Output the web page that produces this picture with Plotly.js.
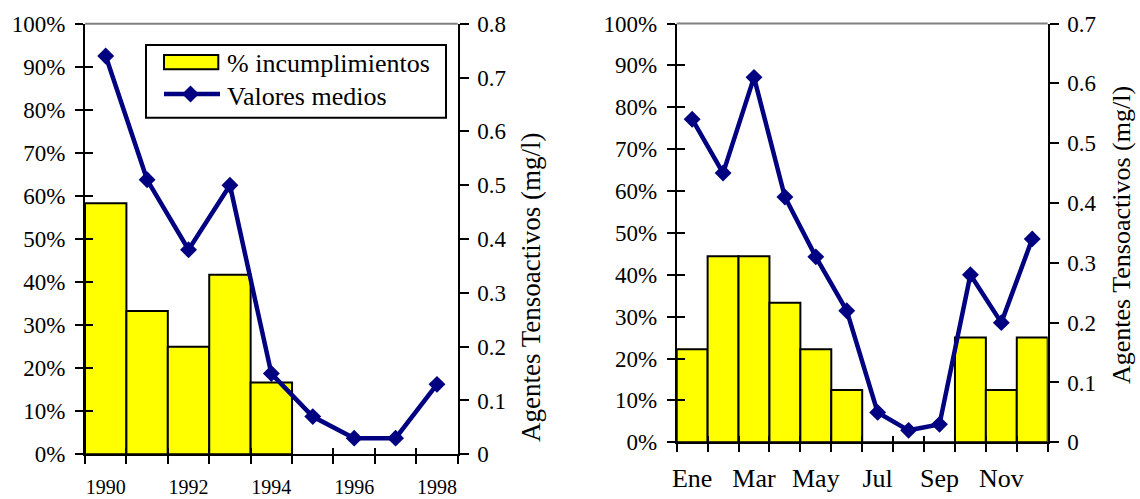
<!DOCTYPE html>
<html>
<head>
<meta charset="utf-8">
<script src="https://cdn.plot.ly/plotly-3.0.1.min.js"></script>
<style>
  html, body { margin: 0; padding: 0; background: #ffffff; }
  #chart { width: 1140px; height: 499px; }
</style>
</head>
<body>
<div id="chart"></div>
<script>
// ---- Data ----
const years = [1990, 1991, 1992, 1993, 1994, 1995, 1996, 1997, 1998];
const yearTickVals = [1990, 1992, 1994, 1996, 1998];
const pctIncumplimientosAnual = [0.583, 0.333, 0.25, 0.417, 0.167, null, null, null, null];
const valoresMediosAnual = [0.74, 0.51, 0.38, 0.50, 0.15, 0.07, 0.03, 0.03, 0.13];

const meses = ['Ene', 'Feb', 'Mar', 'Abr', 'May', 'Jun', 'Jul', 'Ago', 'Sep', 'Oct', 'Nov', 'Dic'];
const mesesTickVals = ['Ene', 'Mar', 'May', 'Jul', 'Sep', 'Nov'];
const pctIncumplimientosMensual = [0.222, 0.444, 0.444, 0.333, 0.222, 0.125, 0, 0, 0, 0.25, 0.125, 0.25];
const valoresMediosMensual = [0.54, 0.45, 0.61, 0.41, 0.31, 0.22, 0.05, 0.02, 0.03, 0.28, 0.20, 0.34];

const serieBarras = '% incumplimientos';
const serieLinea = 'Valores medios';
const tituloDerecho = 'Agentes Tensoactivos (mg/l)';

// ---- Layout helpers ----
const W = 1140, H = 499;
const px = v => v / W;
const py = v => 1 - v / H;
const FONT = '"Liberation Serif", "Times New Roman", Times, serif';
const BAR_COLOR = '#FFFF00';
const LINE_COLOR = '#000080';

// left plot area (pixels)
const L = { x0: 85, x1: 457.7, top: 23.7, bottom: 454.3 };
// right plot area (pixels)
const R = { x0: 676.7, x1: 1047.7, top: 23.5, bottom: 442.3 };

const yearBounds = years.map(y => y - 0.5).concat([years[years.length - 1] + 0.5]);
const monthBounds = meses.map((m, i) => i - 0.5).concat([meses.length - 0.5]);

// empty helper traces so that tick-only overlay axes are drawn
const helper = (xa, ya) => ({ type: 'scatter', mode: 'markers', x: [], y: [], xaxis: xa, yaxis: ya,
  showlegend: false, hoverinfo: 'skip' });

const traces = [
  {
    type: 'bar', x: years, y: pctIncumplimientosAnual, name: serieBarras,
    xaxis: 'x', yaxis: 'y', width: 1,
    marker: { color: BAR_COLOR, line: { color: '#000000', width: 2 } },
    showlegend: false, hoverinfo: 'skip'
  },
  {
    type: 'bar', x: meses, y: pctIncumplimientosMensual, name: serieBarras,
    xaxis: 'x2', yaxis: 'y4', width: 1,
    marker: { color: BAR_COLOR, line: { color: '#000000', width: 2 } },
    showlegend: false, hoverinfo: 'skip'
  },
  helper('x3', 'y'), helper('x4', 'y'), helper('x', 'y3'),
  helper('x5', 'y4'), helper('x6', 'y4'), helper('x2', 'y6'),
  {
    type: 'scatter', mode: 'lines+markers', x: years, y: valoresMediosAnual, name: serieLinea,
    xaxis: 'x', yaxis: 'y2',
    line: { color: LINE_COLOR, width: 4.5 },
    marker: { symbol: 'diamond', size: 13, color: LINE_COLOR },
    showlegend: false, hoverinfo: 'skip', cliponaxis: false
  },
  {
    type: 'scatter', mode: 'lines+markers', x: meses, y: valoresMediosMensual, name: serieLinea,
    xaxis: 'x2', yaxis: 'y5',
    line: { color: LINE_COLOR, width: 4.5 },
    marker: { symbol: 'diamond', size: 13, color: LINE_COLOR },
    showlegend: false, hoverinfo: 'skip', cliponaxis: false
  }
];

const baseAxis = {
  showgrid: false, zeroline: false, fixedrange: true,
  linecolor: '#000000', linewidth: 2, tickcolor: '#000000', tickwidth: 2,
  tickfont: { family: FONT, size: 23, color: '#000000' }
};
const tickOnly = {
  showgrid: false, zeroline: false, fixedrange: true, showline: false,
  showticklabels: false, tickcolor: '#000000', tickwidth: 2
};

const layout = {
  width: W, height: H,
  margin: { l: 0, r: 0, t: 0, b: 0, pad: 0 },
  paper_bgcolor: '#ffffff', plot_bgcolor: 'rgba(0,0,0,0)',
  showlegend: false, bargap: 0,
  font: { family: FONT, color: '#000000' },

  // ----- Left chart -----
  xaxis: Object.assign({}, baseAxis, {
    domain: [px(L.x0), px(L.x1)], anchor: 'y', range: [1989.5, 1998.5],
    tickmode: 'array', tickvals: yearTickVals, ticktext: yearTickVals.map(String),
    ticks: '', showline: true, ticklabelstandoff: 14,
    tickfont: { family: FONT, size: 20, color: '#000000' }
  }),
  xaxis3: Object.assign({}, tickOnly, {
    overlaying: 'x', anchor: 'y', range: [1989.5, 1998.5],
    tickmode: 'array', tickvals: yearBounds, ticks: 'outside', ticklen: 9
  }),
  xaxis4: Object.assign({}, tickOnly, {
    overlaying: 'x', anchor: 'y', range: [1989.5, 1998.5],
    tickmode: 'array', tickvals: yearBounds, ticks: 'inside', ticklen: 6
  }),
  yaxis: Object.assign({}, baseAxis, {
    domain: [py(L.bottom), py(L.top)], anchor: 'x', range: [0, 1],
    tickmode: 'linear', tick0: 0, dtick: 0.1, tickformat: '.0%',
    ticks: 'outside', ticklen: 8, showline: true, ticklabelstandoff: 5
  }),
  yaxis3: Object.assign({}, tickOnly, {
    overlaying: 'y', anchor: 'x', range: [0, 1],
    tickmode: 'linear', tick0: 0, dtick: 0.1, ticks: 'inside', ticklen: 8
  }),
  yaxis2: Object.assign({}, baseAxis, {
    overlaying: 'y', side: 'right', anchor: 'x', range: [0, 0.8],
    tickmode: 'linear', tick0: 0, dtick: 0.1,
    ticks: 'outside', ticklen: 9, showline: true, ticklabelstandoff: 4
  }),

  // ----- Right chart -----
  xaxis2: Object.assign({}, baseAxis, {
    domain: [px(R.x0), px(R.x1)], anchor: 'y4', type: 'category',
    categoryorder: 'array', categoryarray: meses, range: [-0.5, meses.length - 0.5],
    tickmode: 'array', tickvals: mesesTickVals, ticktext: mesesTickVals,
    ticks: '', showline: true, ticklabelstandoff: 11,
    tickfont: { family: FONT, size: 26, color: '#000000' }
  }),
  xaxis5: Object.assign({}, tickOnly, {
    overlaying: 'x2', anchor: 'y4', type: 'linear', range: [-0.5, meses.length - 0.5],
    tickmode: 'array', tickvals: monthBounds, ticks: 'outside', ticklen: 9
  }),
  xaxis6: Object.assign({}, tickOnly, {
    overlaying: 'x2', anchor: 'y4', type: 'linear', range: [-0.5, meses.length - 0.5],
    tickmode: 'array', tickvals: monthBounds, ticks: 'inside', ticklen: 6
  }),
  yaxis4: Object.assign({}, baseAxis, {
    domain: [py(R.bottom), py(R.top)], anchor: 'x2', range: [0, 1],
    tickmode: 'linear', tick0: 0, dtick: 0.1, tickformat: '.0%',
    ticks: 'outside', ticklen: 8, showline: true, ticklabelstandoff: 5
  }),
  yaxis6: Object.assign({}, tickOnly, {
    overlaying: 'y4', anchor: 'x2', range: [0, 1],
    tickmode: 'linear', tick0: 0, dtick: 0.1, ticks: 'inside', ticklen: 8
  }),
  yaxis5: Object.assign({}, baseAxis, {
    overlaying: 'y4', side: 'right', anchor: 'x2', range: [0, 0.7],
    tickmode: 'linear', tick0: 0, dtick: 0.1,
    ticks: 'outside', ticklen: 9, showline: true, ticklabelstandoff: 4
  }),

  shapes: [
    // grey top border of each plot area
    { type: 'line', xref: 'x domain', yref: 'y domain', x0: 0, x1: 1, y0: 1, y1: 1,
      line: { color: '#808080', width: 2 } },
    { type: 'line', xref: 'x2 domain', yref: 'y4 domain', x0: 0, x1: 1, y0: 1, y1: 1,
      line: { color: '#808080', width: 2 } },
    // legend box
    { type: 'rect', xref: 'paper', yref: 'paper', x0: px(146), x1: px(446), y0: py(117.7), y1: py(45),
      fillcolor: '#ffffff', line: { color: '#000000', width: 2 } },
    // legend bar swatch
    { type: 'rect', xref: 'paper', yref: 'paper', x0: px(164), x1: px(218.3), y0: py(69.3), y1: py(55),
      fillcolor: BAR_COLOR, line: { color: '#000000', width: 2 } },
    // legend line swatch
    { type: 'line', xref: 'paper', yref: 'paper', x0: px(164), x1: px(220), y0: py(94), y1: py(94),
      line: { color: LINE_COLOR, width: 4.5 } },
    { type: 'path', xref: 'paper', yref: 'paper',
      path: 'M ' + px(182) + ',' + py(94) + ' L ' + px(190.5) + ',' + py(85.5) +
            ' L ' + px(199) + ',' + py(94) + ' L ' + px(190.5) + ',' + py(102.5) + ' Z',
      fillcolor: LINE_COLOR, line: { color: LINE_COLOR, width: 0 } }
  ],

  annotations: [
    { xref: 'paper', yref: 'paper', x: px(225), y: py(63), xanchor: 'left', yanchor: 'middle',
      text: serieBarras, showarrow: false, font: { family: FONT, size: 26, color: '#000000' } },
    { xref: 'paper', yref: 'paper', x: px(225), y: py(97), xanchor: 'left', yanchor: 'middle',
      text: serieLinea, showarrow: false, font: { family: FONT, size: 26, color: '#000000' } },
    { xref: 'paper', yref: 'paper', x: px(531), y: py(287), xanchor: 'center', yanchor: 'middle',
      text: tituloDerecho, textangle: -90, showarrow: false,
      font: { family: FONT, size: 27, color: '#000000' } },
    { xref: 'paper', yref: 'paper', x: px(1121), y: py(235), xanchor: 'center', yanchor: 'middle',
      text: tituloDerecho, textangle: -90, showarrow: false,
      font: { family: FONT, size: 26, color: '#000000' } }
  ]
};

Plotly.newPlot('chart', traces, layout, { staticPlot: true, displayModeBar: false });
</script>
</body>
</html>
